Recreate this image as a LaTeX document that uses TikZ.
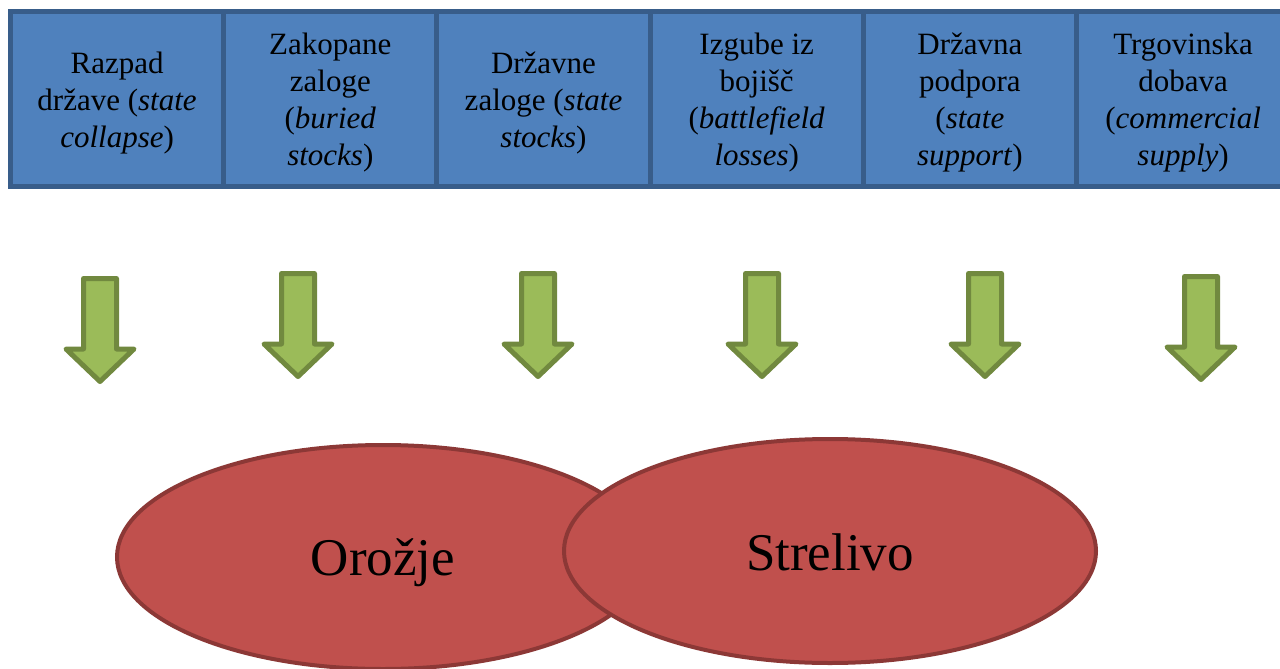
\documentclass[tikz,border=0pt]{standalone}
\usepackage{fontspec}
\setmainfont{Liberation Serif}
\newfontfamily\timesfont{Liberation Serif}
\usetikzlibrary{shapes.geometric}
\definecolor{boxfill}{HTML}{4F81BD}
\definecolor{boxline}{HTML}{385D8A}
\definecolor{arrfill}{HTML}{9BBB59}
\definecolor{arrline}{HTML}{71893F}
\definecolor{ellfill}{HTML}{C0504D}
\definecolor{ellline}{HTML}{8C3836}
\tikzset{
  srcbox/.style={draw=boxline, fill=boxfill, line width=5pt, minimum width=213.2pt,
    minimum height=175pt, inner sep=0pt},
  boxtext/.style={align=center, text=black, inner sep=0pt,
    font=\timesfont\fontsize{31}{37}\selectfont},
  arrowshape/.style={draw=arrline, fill=arrfill, line width=5pt, line join=round},
  downarrow/.pic={\path[arrowshape] (-16.5,0) -- (16.5,0) -- (16.5,70.5) -- (34,70.5)
     -- (0,103) -- (-34,70.5) -- (-16.5,70.5) -- cycle;},
  blob/.style={ellipse, draw=ellline, fill=ellfill, line width=4pt, inner sep=0pt,
    minimum width=532pt, minimum height=224pt},
  blobtext/.style={inner sep=0pt, text=black, font=\timesfont\fontsize{53}{60}\selectfont}
}
\begin{document}
\begin{tikzpicture}[x=1pt,y=-1pt]
\useasboundingbox (0,0) rectangle (1280,669);
\begin{scope}
\clip (0,0) rectangle (1280,669);
\node[srcbox] (b1) at (117.1,99) {};
\node[srcbox] (b2) at (330.3,99) {};
\node[srcbox] (b3) at (543.5,99) {};
\node[srcbox] (b4) at (756.7,99) {};
\node[srcbox] (b5) at (969.9,99) {};
\node[srcbox] (b6) at (1183.1,99) {};
\node[boxtext] (t1) at ([yshift=-4pt]b1.center) {Razpad\\države (\textit{state}\\\textit{collapse})};
\node[boxtext] (t2) at ([yshift=-4pt]b2.center) {Zakopane\\zaloge\\(\textit{buried}\\\textit{stocks})};
\node[boxtext] (t3) at ([yshift=-4pt]b3.center) {Državne\\zaloge (\textit{state}\\\textit{stocks})};
\node[boxtext] (t4) at ([yshift=-4pt]b4.center) {Izgube iz\\bojišč\\(\textit{battlefield}\\\textit{losses})};
\node[boxtext] (t5) at ([yshift=-4pt]b5.center) {Državna\\podpora\\(\textit{state}\\\textit{support})};
\node[boxtext] (t6) at ([yshift=-4pt]b6.center) {Trgovinska\\dobava\\(\textit{commercial}\\\textit{supply})};

\pic (a1) at (100,278.5) {downarrow};
\pic (a2) at (298,273.5) {downarrow};
\pic (a3) at (538,273.5) {downarrow};
\pic (a4) at (762,273.5) {downarrow};
\pic (a5) at (985,273.5) {downarrow};
\pic (a6) at (1201,276.5) {downarrow};

\node[blob] (orozje) at (383,557) {};
\node[blobtext] (ot) at ([yshift=-6pt]orozje.center) {Orožje};
\node[blob] (strelivo) at (830,551) {};
\node[blobtext] (st) at ([yshift=-1pt]strelivo.center) {Strelivo};
\end{scope}
\end{tikzpicture}
\end{document}
